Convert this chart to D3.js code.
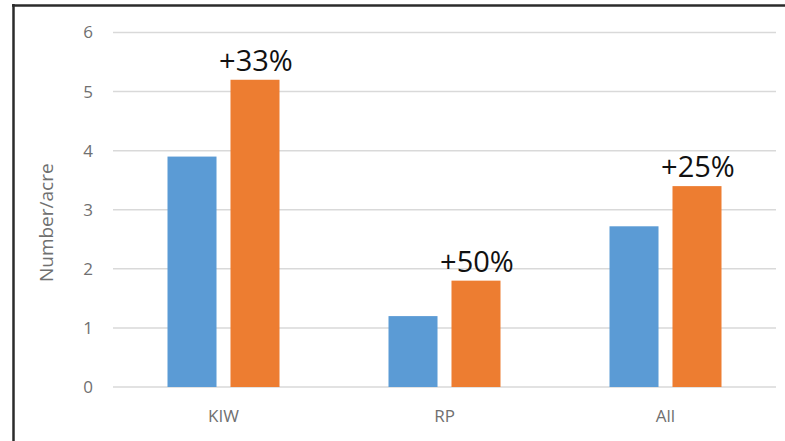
<!DOCTYPE html>
<html>
<head>
<meta charset="utf-8">
<script src="https://cdn.jsdelivr.net/npm/d3@7/dist/d3.min.js"></script>
<style>
  html, body { margin: 0; padding: 0; background: #ffffff; }
  svg { display: block; }
  text { font-family: "Open Sans", sans-serif; }
</style>
</head>
<body>
<svg id="chart" width="785" height="441"></svg>
<script>
// Density per acre by site, before (series A) and after (series B)
const categories = ["KIW", "RP", "All"];
const seriesNames = ["Before", "After"];
const beforeValues = [3.9, 1.2, 2.72];
const afterValues = [5.2, 1.8, 3.4];
const changeLabels = ["+33%", "+50%", "+25%"];
const yTicks = [0, 1, 2, 3, 4, 5, 6];
const yTitle = "Number/acre";

const colors = ["#5B9BD5", "#ED7D31"];

const svg = d3.select("#chart");
const W = 785, H = 441;
const plot = { left: 113, right: 776, top: 32.5, bottom: 387 };

// Frame lines (left and top edges)
svg.append("line").attr("x1", 13.5).attr("x2", 13.5).attr("y1", 4).attr("y2", H)
  .attr("stroke", "#2b2b2b").attr("stroke-width", 2.5);
svg.append("line").attr("x1", 12).attr("x2", W).attr("y1", 5.5).attr("y2", 5.5)
  .attr("stroke", "#2b2b2b").attr("stroke-width", 2.5);

const y = d3.scaleLinear().domain([0, 6]).range([plot.bottom, plot.top]);

const x0 = d3.scaleBand().domain(categories)
  .range([plot.left, plot.right])
  .paddingInner(0.4932).paddingOuter(0.2466);

const x1 = d3.scaleBand().domain(seriesNames)
  .range([0, x0.bandwidth()])
  .paddingInner(0.222);

// Gridlines
svg.append("g").selectAll("line").data(yTicks).join("line")
  .attr("x1", plot.left).attr("x2", plot.right)
  .attr("y1", d => y(d)).attr("y2", d => y(d))
  .attr("stroke", "#d9d9d9").attr("stroke-width", 1.5);

// Y axis labels
const yAxis = d3.axisLeft(y).tickValues(yTicks).tickSize(0).tickPadding(0).tickFormat(d3.format("d"));
const gy = svg.append("g").attr("transform", `translate(93,0)`).call(yAxis);
gy.select(".domain").remove();
gy.selectAll("text").attr("fill", "#707070").style("font-size", "17px")
  .style("font-family", "'Open Sans', sans-serif");

// X axis labels
const xAxis = d3.axisBottom(x0).tickSize(0).tickPadding(0);
const gx = svg.append("g").attr("transform", `translate(0,410)`).call(xAxis);
gx.select(".domain").remove();
gx.selectAll("text").attr("fill", "#707070").style("font-size", "17px")
  .style("font-family", "'Open Sans', sans-serif");

// Bars
const rows = categories.map((c, i) => ({ cat: c, vals: [beforeValues[i], afterValues[i]], label: changeLabels[i] }));

const groups = svg.append("g").selectAll("g").data(rows).join("g")
  .attr("transform", d => `translate(${x0(d.cat)},0)`);

groups.selectAll("rect").data(d => d.vals.map((v, j) => ({ s: seriesNames[j], v, j })))
  .join("rect")
  .attr("x", d => x1(d.s))
  .attr("width", x1.bandwidth())
  .attr("y", d => y(d.v))
  .attr("height", d => y(0) - y(d.v))
  .attr("fill", d => colors[d.j]);

// Change labels above the second bar
groups.append("text")
  .attr("x", x1(seriesNames[1]) + x1.bandwidth() / 2 + 1)
  .attr("y", d => y(d.vals[1]) - 9)
  .attr("text-anchor", "middle")
  .attr("fill", "#111111")
  .style("font-size", "29px")
  .text(d => d.label);

// Y axis title
svg.append("text")
  .attr("transform", `translate(53,${(plot.top + plot.bottom) / 2 + 13}) rotate(-90)`)
  .attr("text-anchor", "middle")
  .attr("fill", "#707070")
  .style("font-size", "19px")
  .text(yTitle);
</script>
</body>
</html>
